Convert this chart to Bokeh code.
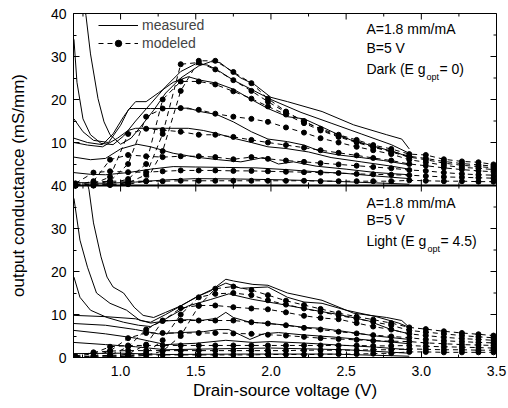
import math
from bokeh.plotting import figure
from bokeh.models import (Range1d, FixedTicker, SingleIntervalTicker,
                          PrintfTickFormatter, Span, Label, Legend, LegendItem)
from bokeh.embed import file_html
from bokeh.resources import INLINE

FONT = "Liberation Sans"

# ---------------- data ----------------
x_ticks = [1.0, 1.5, 2.0, 2.5, 3.0, 3.5]
x_minor_ticks = [0.75, 1.25, 1.75, 2.25, 2.75, 3.25]
y_ticks = [0, 10, 20, 30, 40, 50, 60, 70, 80]
y_minor_ticks = [5, 15, 25, 35, 45, 55, 65, 75]
y_tick_labels = ["0", "10", "20", "30", "40", "10", "20", "30", "40"]

# modeled Vds grid
v_model = [0.70, 0.82, 0.93, 1.05, 1.17, 1.28, 1.40, 1.52, 1.63, 1.75, 1.87, 1.98, 2.10,
           2.22, 2.33, 2.45, 2.57, 2.68, 2.80, 2.92, 3.03, 3.15, 3.27, 3.38, 3.48]

# Dark (upper panel) modeled
dark_mod_1 = [0.0, 0.0, 0.1, 0.3, 1.0, 8.0, 22.0, 29.0, 29.0, 26.4, 23.8, 20.2, 17.2, 14.8, 13.2, 11.8, 10.6, 9.4, 8.5, 7.3, 7.1, 6.1, 5.6, 5.4, 4.9]
dark_mod_2 = [0.0, 0.0, 0.2, 0.6, 2.5, 12.0, 28.2, 28.6, 27.0, 24.5, 22.0, 19.5, 17.0, 15.0, 13.0, 11.5, 10.2, 9.0, 8.0, 6.8, 6.3, 5.6, 5.1, 4.8, 4.5]
dark_mod_3 = [0.0, 0.1, 0.4, 1.5, 5.0, 20.0, 24.2, 24.2, 23.5, 21.9, 20.2, 18.4, 16.5, 14.5, 12.8, 11.3, 10.0, 8.9, 7.8, 6.6, 6.0, 5.2, 4.7, 4.4, 4.1]
dark_mod_4 = [0.0, 0.2, 1.0, 5.0, 16.0, 17.9, 18.0, 17.6, 16.7, 16.0, 15.5, 14.8, 13.5, 12.3, 11.0, 10.0, 9.0, 8.2, 7.3, 6.0, 5.4, 4.7, 4.2, 4.0, 3.7]
dark_mod_5 = [0.0, 0.4, 2.0, 12.0, 13.2, 12.9, 12.5, 11.8, 11.8, 11.3, 10.6, 10.0, 9.4, 8.8, 8.2, 7.6, 7.0, 6.4, 5.8, 5.0, 4.6, 4.1, 3.7, 3.4, 3.2]
dark_mod_6 = [0.1, 1.0, 6.0, 7.1, 6.8, 6.6, 6.8, 6.8, 6.6, 6.1, 6.6, 6.2, 5.8, 5.5, 5.2, 4.9, 4.6, 4.3, 4.0, 3.6, 3.4, 3.0, 2.7, 2.5, 2.4]
dark_mod_7 = [0.5, 3.0, 3.3, 3.1, 3.1, 3.3, 3.5, 3.5, 3.5, 3.4, 3.4, 3.3, 3.2, 3.1, 3.0, 2.9, 2.7, 2.6, 2.5, 2.4, 2.2, 2.0, 1.9, 1.8, 1.7]
dark_mod_8 = [0.2, 0.8, 1.0, 1.0, 1.0, 1.0, 1.1, 1.1, 1.1, 1.1, 1.1, 1.1, 1.1, 1.1, 1.0, 1.0, 1.0, 1.0, 1.0, 1.2, 1.1, 1.0, 1.0, 0.9, 0.9]

# Light (lower panel) modeled
light_mod_1 = [0.0, 0.0, 0.0, 0.2, 0.5, 1.5, 5.0, 12.0, 16.0, 16.5, 15.7, 14.5, 13.2, 12.2, 11.3, 10.3, 9.5, 8.8, 8.0, 7.0, 6.6, 6.1, 5.7, 5.4, 5.1]
light_mod_2 = [0.0, 0.0, 0.1, 0.3, 1.0, 4.0, 10.0, 14.0, 14.8, 15.0, 14.5, 13.3, 12.3, 11.4, 10.6, 9.8, 9.0, 8.3, 7.5, 6.3, 5.9, 5.5, 5.1, 4.8, 4.6]
light_mod_3 = [0.0, 0.0, 0.2, 0.8, 3.0, 8.5, 11.5, 12.1, 12.1, 11.7, 11.4, 11.2, 10.5, 9.7, 9.2, 8.9, 8.0, 7.2, 6.5, 5.5, 5.1, 4.7, 4.4, 4.2, 4.0]
light_mod_4 = [0.0, 0.1, 0.5, 2.5, 6.5, 8.6, 8.6, 8.6, 8.6, 8.6, 8.2, 7.9, 7.5, 6.9, 6.5, 6.0, 5.6, 5.2, 4.9, 4.6, 4.2, 3.9, 3.7, 3.5, 3.4]
light_mod_5 = [0.0, 0.3, 1.5, 4.5, 5.7, 5.7, 5.7, 5.7, 5.7, 5.6, 5.5, 5.3, 5.1, 4.8, 4.5, 4.3, 4.1, 3.9, 3.8, 3.7, 3.4, 3.2, 3.0, 2.9, 2.8]
light_mod_6 = [0.1, 1.0, 2.5, 2.8, 2.8, 2.8, 2.8, 2.8, 2.8, 2.8, 2.8, 2.8, 2.8, 2.8, 2.8, 2.8, 2.8, 2.7, 2.7, 2.8, 2.6, 2.5, 2.4, 2.3, 2.2]
light_mod_7 = [0.3, 1.2, 1.5, 1.6, 1.6, 1.6, 1.6, 1.6, 1.6, 1.6, 1.6, 1.6, 1.6, 1.7, 1.7, 1.7, 1.7, 1.8, 1.8, 2.0, 1.9, 1.8, 1.8, 1.7, 1.7]
light_mod_8 = [0.1, 0.4, 0.5, 0.6, 0.6, 0.6, 0.6, 0.6, 0.6, 0.6, 0.6, 0.7, 0.7, 0.7, 0.7, 0.8, 0.8, 0.9, 1.0, 1.3, 1.3, 1.2, 1.2, 1.2, 1.2]

# Dark measured (Vds, gd) pairs
dark_meas_1_v = [0.745, 0.77, 0.80, 0.85, 0.89, 0.93, 1.00, 1.07, 1.13, 1.22, 1.30, 1.40, 1.52, 1.60, 1.66, 1.72, 1.80, 1.89, 2.00, 2.11, 2.34, 2.55, 2.77, 2.87, 2.92]
dark_meas_1_g = [45.0, 39.5, 30.6, 20.2, 14.8, 11.8, 9.6, 11.0, 13.5, 17.5, 21.5, 25.0, 27.8, 28.8, 28.6, 27.0, 25.0, 23.5, 20.5, 19.5, 17.2, 14.1, 11.8, 10.8, 8.5]
dark_meas_2_v = [0.69, 0.71, 0.75, 0.80, 0.87, 0.95, 1.02, 1.10, 1.20, 1.30, 1.40, 1.50, 1.58, 1.66, 1.75, 1.89, 2.00, 2.20, 2.40, 2.60, 2.80, 2.92]
dark_meas_2_g = [34.0, 24.0, 15.5, 11.8, 9.8, 9.5, 11.5, 15.0, 19.0, 23.0, 26.5, 28.3, 28.0, 26.5, 24.5, 22.0, 20.0, 17.0, 14.5, 12.0, 9.5, 7.5]
dark_meas_3_v = [0.69, 0.75, 0.82, 0.92, 1.00, 1.05, 1.10, 1.17, 1.25, 1.35, 1.45, 1.53, 1.64, 1.75, 1.87, 1.98, 2.11, 2.22, 2.34, 2.45, 2.53, 2.70, 2.85, 2.92]
dark_meas_3_g = [15.5, 12.5, 10.5, 10.0, 14.0, 17.5, 19.5, 19.5, 21.5, 24.0, 25.3, 24.5, 23.8, 22.4, 20.0, 17.9, 16.0, 15.5, 13.6, 11.8, 10.6, 9.0, 7.5, 6.5]
dark_meas_4_v = [0.69, 0.78, 0.88, 0.95, 1.02, 1.06, 1.20, 1.35, 1.45, 1.53, 1.64, 1.75, 1.87, 1.98, 2.11, 2.22, 2.34, 2.45, 2.60, 2.75, 2.92]
dark_meas_4_g = [11.0, 10.0, 9.5, 12.0, 16.0, 17.9, 17.9, 17.9, 18.0, 17.2, 16.5, 14.8, 12.5, 10.8, 10.2, 9.4, 7.8, 7.1, 6.5, 5.8, 4.8]
dark_meas_5_v = [0.69, 0.78, 0.88, 0.98, 1.05, 1.10, 1.30, 1.45, 1.55, 1.65, 1.75, 1.87, 1.98, 2.10, 2.25, 2.40, 2.60, 2.80, 2.92]
dark_meas_5_g = [10.0, 9.4, 9.0, 11.0, 12.8, 13.3, 13.3, 13.3, 12.8, 12.0, 11.0, 10.0, 9.0, 8.6, 7.8, 6.5, 5.5, 4.5, 3.8]
dark_meas_6_v = [0.69, 0.80, 0.90, 1.00, 1.11, 1.20, 1.35, 1.50, 1.65, 1.80, 1.95, 2.05, 2.15, 2.30, 2.50, 2.70, 2.92]
dark_meas_6_g = [6.6, 6.0, 6.3, 8.5, 9.6, 9.0, 7.5, 6.6, 6.0, 5.5, 6.5, 5.0, 5.5, 4.5, 3.8, 3.0, 2.5]
dark_meas_7_v = [0.69, 0.80, 0.90, 1.05, 1.20, 1.35, 1.50, 1.70, 1.90, 2.10, 2.30, 2.50, 2.70, 2.92]
dark_meas_7_g = [3.0, 2.6, 2.5, 3.0, 3.8, 4.4, 4.3, 4.2, 4.1, 3.7, 3.2, 2.8, 2.2, 1.6]
dark_meas_8_v = [0.69, 0.90, 1.10, 1.30, 1.50, 1.80, 2.10, 2.40, 2.70, 2.92]
dark_meas_8_g = [0.7, 0.5, 0.8, 1.3, 1.6, 1.5, 1.3, 1.0, 0.6, 0.3]

# Light measured (Vds, gd) pairs
light_meas_1_v = [0.783, 0.79, 0.82, 0.87, 0.91, 0.95, 1.02, 1.09, 1.15, 1.22, 1.30, 1.40, 1.50, 1.60, 1.70, 1.75, 1.88, 1.98, 2.11, 2.34, 2.55, 2.77, 2.87, 2.92]
light_meas_1_g = [40.0, 39.0, 31.3, 23.4, 18.7, 16.4, 15.0, 11.7, 9.8, 9.3, 10.5, 12.0, 14.0, 15.5, 18.2, 17.8, 17.0, 16.8, 15.0, 13.3, 10.3, 9.3, 8.6, 7.0]
light_meas_2_v = [0.69, 0.73, 0.78, 0.84, 0.93, 1.04, 1.13, 1.20, 1.30, 1.40, 1.53, 1.62, 1.70, 1.80, 1.98, 2.11, 2.22, 2.34, 2.50, 2.70, 2.85, 2.92]
light_meas_2_g = [37.0, 27.3, 21.0, 15.0, 12.6, 11.0, 8.6, 8.2, 10.0, 12.0, 14.5, 16.0, 17.3, 16.1, 16.4, 14.0, 12.9, 12.6, 11.0, 9.5, 8.0, 7.0]
light_meas_3_v = [0.69, 0.73, 0.80, 0.91, 1.02, 1.12, 1.20, 1.30, 1.45, 1.60, 1.72, 1.88, 2.05, 2.25, 2.45, 2.65, 2.80, 2.92]
light_meas_3_g = [18.7, 14.0, 11.0, 9.3, 8.2, 7.5, 7.2, 9.0, 12.0, 13.5, 14.8, 13.5, 12.5, 11.2, 10.0, 8.5, 6.5, 5.5]
light_meas_4_v = [0.69, 0.90, 1.10, 1.20, 1.30, 1.45, 1.53, 1.64, 1.70, 1.75, 1.86, 1.99, 2.11, 2.22, 2.33, 2.50, 2.70, 2.92]
light_meas_4_g = [9.8, 9.5, 9.0, 8.0, 8.5, 8.8, 8.6, 9.1, 10.5, 9.3, 8.2, 7.9, 7.5, 7.0, 6.8, 6.0, 5.0, 4.2]
light_meas_5_v = [0.69, 0.90, 1.10, 1.25, 1.40, 1.55, 1.65, 1.72, 1.80, 1.86, 1.95, 2.05, 2.20, 2.40, 2.60, 2.80, 2.92]
light_meas_5_g = [7.9, 7.5, 6.5, 5.5, 5.8, 6.0, 6.5, 6.5, 5.2, 4.2, 5.5, 5.8, 5.3, 4.8, 4.2, 3.6, 3.2]
light_meas_6_v = [0.69, 0.90, 1.10, 1.30, 1.50, 1.70, 1.88, 2.00, 2.20, 2.50, 2.70, 2.92]
light_meas_6_g = [6.3, 5.5, 4.5, 3.0, 3.3, 4.0, 3.5, 3.7, 3.4, 2.8, 2.4, 1.8]
light_meas_7_v = [0.69, 0.90, 1.10, 1.30, 1.60, 2.00, 2.50, 2.92]
light_meas_7_g = [3.5, 3.0, 2.5, 1.8, 2.0, 2.2, 1.8, 1.0]
light_meas_8_v = [0.69, 1.00, 1.30, 1.80, 2.40, 2.92]
light_meas_8_g = [0.9, 1.0, 0.7, 0.8, 0.8, 0.3]

dark_model = [dark_mod_1, dark_mod_2, dark_mod_3, dark_mod_4, dark_mod_5, dark_mod_6, dark_mod_7, dark_mod_8]
light_model = [light_mod_1, light_mod_2, light_mod_3, light_mod_4, light_mod_5, light_mod_6, light_mod_7, light_mod_8]
dark_meas = [(dark_meas_1_v, dark_meas_1_g), (dark_meas_2_v, dark_meas_2_g), (dark_meas_3_v, dark_meas_3_g),
             (dark_meas_4_v, dark_meas_4_g), (dark_meas_5_v, dark_meas_5_g), (dark_meas_6_v, dark_meas_6_g),
             (dark_meas_7_v, dark_meas_7_g), (dark_meas_8_v, dark_meas_8_g)]
light_meas = [(light_meas_1_v, light_meas_1_g), (light_meas_2_v, light_meas_2_g), (light_meas_3_v, light_meas_3_g),
              (light_meas_4_v, light_meas_4_g), (light_meas_5_v, light_meas_5_g), (light_meas_6_v, light_meas_6_g),
              (light_meas_7_v, light_meas_7_g), (light_meas_8_v, light_meas_8_g)]

# ---------------- figure ----------------
X0, X1 = 0.687, 3.5
Y0, Y1 = 0, 80
p = figure(width=508, height=408, output_backend="svg", toolbar_location=None,
           x_range=Range1d(X0, X1), y_range=Range1d(Y0, Y1),
           min_border_left=73, min_border_right=12, min_border_top=13, min_border_bottom=51)
p.extra_y_ranges = {"dark": Range1d(-40, 40)}
p.xgrid.visible = False
p.ygrid.visible = False
p.outline_line_color = "black"
p.outline_line_width = 1
p.background_fill_color = "white"
p.border_fill_color = "white"

def style_axis(ax):
    ax.major_tick_in = 6
    ax.major_tick_out = 0
    ax.minor_tick_in = 3
    ax.minor_tick_out = 0
    ax.axis_line_color = "black"
    ax.major_tick_line_color = "black"
    ax.minor_tick_line_color = "black"
    ax.major_label_text_font = FONT
    ax.major_label_text_color = "black"
    ax.major_label_text_font_size = "14px"
    ax.axis_label_text_font = FONT
    ax.axis_label_text_font_style = "normal"
    ax.axis_label_text_color = "black"
    ax.axis_label_text_font_size = "17px"

xa = p.xaxis[0]
xa.ticker = FixedTicker(ticks=x_ticks, minor_ticks=x_minor_ticks)
xa.formatter = PrintfTickFormatter(format="%.1f")
xa.axis_label = "Drain-source voltage (V)"
xa.major_label_standoff = 8
xa.axis_label_standoff = 2
style_axis(xa)

ya = p.yaxis[0]
ya.ticker = FixedTicker(ticks=y_ticks, minor_ticks=y_minor_ticks)
ya.major_label_overrides = {t: s for t, s in zip(y_ticks, y_tick_labels)}
ya.axis_label = "output conductance (mS/mm)"
ya.major_label_standoff = 7
ya.axis_label_standoff = 20
style_axis(ya)

# inward tick marks on the top edge, right edge and on the panel divider
tick_kw = dict(marker="dash", line_color="black", line_width=1)
p.scatter(x_ticks, [Y1] * len(x_ticks), angle=math.pi / 2, size=12, **tick_kw)
p.scatter(x_minor_ticks, [Y1] * len(x_minor_ticks), angle=math.pi / 2, size=6, **tick_kw)
p.scatter(x_ticks, [40] * len(x_ticks), angle=math.pi / 2, size=12, **tick_kw)
p.scatter(x_minor_ticks, [40] * len(x_minor_ticks), angle=math.pi / 2, size=6, **tick_kw)
p.scatter([X1] * len(y_ticks), y_ticks, size=12, **tick_kw)
p.scatter([X1] * len(y_minor_ticks), y_minor_ticks, size=6, **tick_kw)

p.add_layout(Span(location=40, dimension="width", line_color="black", line_width=2))

# ---------------- curves ----------------
meas_renderers = []
mod_line_renderers = []
mod_dot_renderers = []
for v, g in dark_meas:
    meas_renderers.append(p.line(v, g, y_range_name="dark", line_color="black", line_width=1))
for g in dark_model:
    mod_line_renderers.append(p.line(v_model, g, y_range_name="dark", line_color="black",
                                     line_width=1, line_dash="5 4"))
    mod_dot_renderers.append(p.scatter(v_model, g, y_range_name="dark", size=5,
                                       fill_color="black", line_color="black"))
for v, g in light_meas:
    p.line(v, g, line_color="black", line_width=1)
for g in light_model:
    p.line(v_model, g, line_color="black", line_width=1, line_dash="5 4")
    p.scatter(v_model, g, size=5, fill_color="black", line_color="black")

legend = Legend(items=[
    LegendItem(label="measured", renderers=[meas_renderers[0]]),
    LegendItem(label="modeled", renderers=[mod_line_renderers[0], mod_dot_renderers[0]]),
], location=(25, 306), border_line_color=None, background_fill_alpha=0,
   padding=0, spacing=2, glyph_width=40, glyph_height=16, label_height=16,
   label_standoff=4, label_text_font=FONT, label_text_font_size="14px", margin=0)
p.add_layout(legend)

# ---------------- annotations ----------------
def text(x, y, s, size="14px", xo=0, yo=0):
    p.add_layout(Label(x=x, y=y, text=s, x_offset=xo, y_offset=yo, text_font=FONT,
                       text_font_size=size, text_baseline="middle", text_align="left",
                       text_color="black"))

ax0 = 2.635
text(ax0, 76.3, "A=1.8 mm/mA")
text(ax0, 71.9, "B=5 V")
text(ax0, 67.0, "Dark (E g")
text(ax0, 67.0, "opt", size="9px", xo=60, yo=-8)
text(ax0, 67.0, " = 0)", xo=73)
text(ax0, 36.0, "A=1.8 mm/mA")
text(ax0, 31.9, "B=5 V")
text(ax0, 27.2, "Light (E g")
text(ax0, 27.2, "opt", size="9px", xo=61, yo=-8)
text(ax0, 27.2, " = 4.5)", xo=74)

open("out.html", "w").write(file_html(p, INLINE))
